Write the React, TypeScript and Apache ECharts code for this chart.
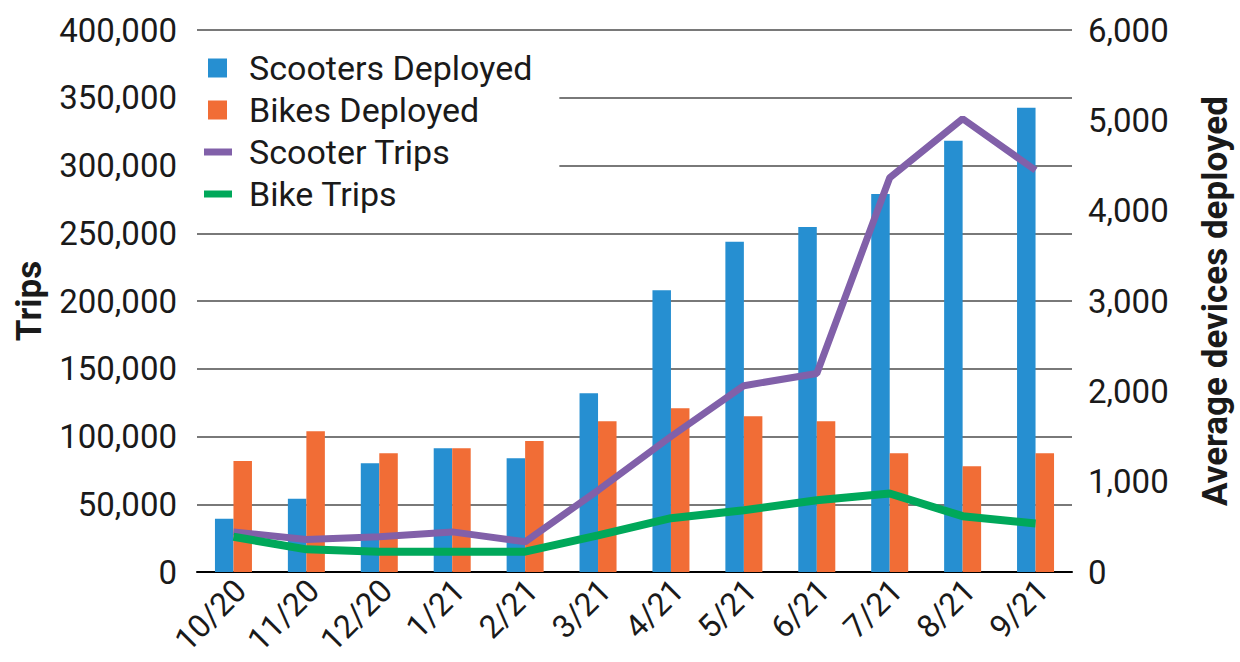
import React, { useEffect, useRef } from "react";
import * as echarts from "echarts";

const categories = ["10/20", "11/20", "12/20", "1/21", "2/21", "3/21", "4/21", "5/21", "6/21", "7/21", "8/21", "9/21"];
const scootersDeployed = [590, 810, 1205, 1370, 1260, 1980, 3120, 3655, 3820, 4185, 4775, 5140];
const bikesDeployed = [1228, 1558, 1315, 1370, 1450, 1670, 1812, 1725, 1670, 1315, 1172, 1315];
const scooterTrips = [29600, 24000, 26000, 29600, 22300, 60300, 100000, 137500, 146500, 291000, 334500, 296500];
const bikeTrips = [26000, 16700, 15000, 15000, 15000, 27000, 39700, 45600, 53000, 57900, 41200, 35800];

const FONT = "Roboto, 'Noto Sans', sans-serif";
const TEXT = "#1a1a1a";

const sq = "path://M0,0M40,19M4,0H23V19H4Z";
const ln = "path://M0,0M40,19M0,6H28V13H0Z";

export default function App() {
  const ref = useRef<HTMLDivElement>(null);
  useEffect(() => {
    if (!ref.current) return;
    const chart = echarts.init(ref.current, null, { renderer: "svg" });
    const fmt = (v: number) => v.toLocaleString("en-US");
    chart.setOption({
      animation: false,
      backgroundColor: "#fff",
      textStyle: { fontFamily: FONT },
      grid: { left: 197, right: 168, top: 30, bottom: 90, containLabel: false, outerBoundsMode: "none" },
      legend: {
        left: 194,
        top: 41,
        orient: "vertical",
        backgroundColor: "#fff",
        padding: [10, 27, 10, 10],
        itemWidth: 40,
        itemHeight: 19,
        itemGap: 8,
        symbolKeepAspect: false,
        itemStyle: { borderWidth: 0 },
        textStyle: { fontSize: 34, color: TEXT, fontFamily: FONT, lineHeight: 32 },
        data: [
          { name: "Scooters Deployed", icon: sq },
          { name: "Bikes Deployed", icon: sq },
          { name: "Scooter Trips", icon: ln },
          { name: "Bike Trips", icon: ln },
        ],
      },
      xAxis: {
        type: "category",
        data: categories,
        axisLine: { lineStyle: { color: "#000", width: 2 } },
        axisTick: { show: false },
        axisLabel: {
          rotate: 45,
          fontSize: 32,
          lineHeight: 20,
          color: TEXT,
          fontFamily: FONT,
          margin: 6,
          interval: 0,
          verticalAlign: "top",
        },
      },
      yAxis: [
        {
          type: "value",
          min: 0,
          max: 400000,
          interval: 50000,
          name: "Trips",
          nameLocation: "middle",
          nameGap: 150,
          nameTextStyle: { fontSize: 35, fontWeight: "bold", color: TEXT, fontFamily: FONT },
          axisLine: { show: false },
          axisTick: { show: false },
          axisLabel: { fontSize: 33, color: TEXT, fontFamily: FONT, margin: 20, formatter: fmt },
          splitLine: { lineStyle: { color: "#4d4d4d", width: 1.5 } },
        },
        {
          type: "value",
          min: 0,
          max: 6000,
          interval: 1000,
          position: "right",
          name: "Average devices deployed",
          nameLocation: "middle",
          nameGap: 126,
          nameTextStyle: { fontSize: 35, fontWeight: "bold", color: TEXT, fontFamily: FONT },
          axisLine: { show: false },
          axisTick: { show: false },
          axisLabel: { fontSize: 33, color: TEXT, fontFamily: FONT, margin: 16, formatter: fmt },
          splitLine: { show: false },
        },
      ],
      series: [
        {
          name: "Scooters Deployed",
          type: "bar",
          yAxisIndex: 1,
          data: scootersDeployed,
          barWidth: 18.5,
          barGap: "0%",
          itemStyle: { color: "#268FD1" },
        },
        {
          name: "Bikes Deployed",
          type: "bar",
          yAxisIndex: 1,
          data: bikesDeployed,
          barWidth: 18.5,
          barGap: "0%",
          itemStyle: { color: "#F16D36" },
        },
        {
          name: "Scooter Trips",
          type: "line",
          yAxisIndex: 0,
          data: scooterTrips,
          symbol: "none",
          itemStyle: { color: "#8160A9" },
          lineStyle: { color: "#8160A9", width: 7 },
          z: 3,
        },
        {
          name: "Bike Trips",
          type: "line",
          yAxisIndex: 0,
          data: bikeTrips,
          symbol: "none",
          itemStyle: { color: "#00A85A" },
          lineStyle: { color: "#00A85A", width: 8 },
          z: 3,
        },
      ],
    });
    return () => chart.dispose();
  }, []);
  return <div ref={ref} style={{ width: 1240, height: 662, position: "absolute", left: 0, top: 0 }} />;
}
